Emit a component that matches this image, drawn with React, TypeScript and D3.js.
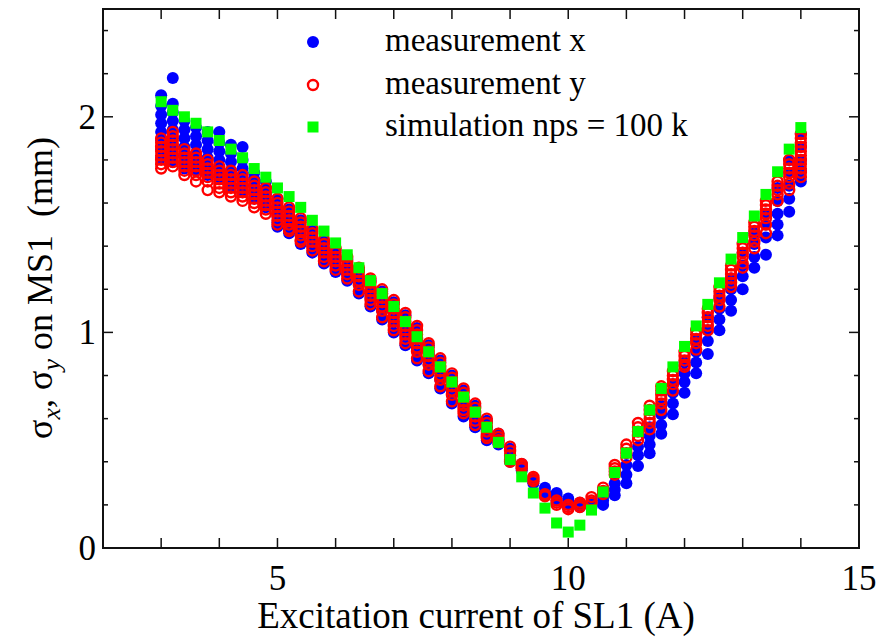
import React, { useRef, useEffect } from "react";
import * as d3 from "d3";

const width = 891;
const height = 639;
const margin = { top: 9, right: 32, bottom: 91, left: 103 };
const plotW = width - margin.left - margin.right;
const plotH = height - margin.top - margin.bottom;

// excitation current of SL1 (A)
const currents = [
    3.0, 3.2, 3.4, 3.6, 3.8, 4.0, 4.2, 4.4, 4.6, 4.8,
    5.0, 5.2, 5.4, 5.6, 5.8, 6.0, 6.2, 6.4, 6.6, 6.8,
    7.0, 7.2, 7.4, 7.6, 7.8, 8.0, 8.2, 8.4, 8.6, 8.8,
    9.0, 9.2, 9.4, 9.6, 9.8, 10.0, 10.2, 10.4, 10.6, 10.8,
    11.0, 11.2, 11.4, 11.6, 11.8, 12.0, 12.2, 12.4, 12.6, 12.8,
    13.0, 13.2, 13.4, 13.6, 13.8, 14.0,
];

// simulation nps = 100 k
const simulation = [
    2.07, 2.03, 2.0, 1.97, 1.93, 1.89, 1.85, 1.81, 1.76, 1.72,
    1.67, 1.63, 1.58, 1.52, 1.47, 1.415, 1.36, 1.3, 1.24, 1.18,
    1.12, 1.05, 0.98, 0.91, 0.84, 0.77, 0.7, 0.63, 0.56, 0.49,
    0.41, 0.33, 0.255, 0.185, 0.116, 0.074, 0.106, 0.176, 0.26, 0.35,
    0.44, 0.54, 0.64, 0.74, 0.84, 0.935, 1.03, 1.13, 1.23, 1.34,
    1.44, 1.54, 1.64, 1.745, 1.85, 1.95,
];

// measurement x (repeated shots at each current)
const measX = [
    [2.1, 2.05, 2.01, 1.97, 1.93, 1.89, 1.85, 1.81],
    [2.18, 2.06, 2.02, 1.98, 1.94, 1.9, 1.86, 1.82, 1.79],
    [1.98, 1.94, 1.9, 1.86, 1.82, 1.78, 1.76],
    [1.95, 1.91, 1.87, 1.83, 1.79, 1.75],
    [1.93, 1.89, 1.85, 1.81, 1.77, 1.73],
    [1.93, 1.88, 1.84, 1.8, 1.76, 1.72],
    [1.87, 1.83, 1.79, 1.75, 1.71, 1.68],
    [1.86, 1.8, 1.76, 1.72, 1.68, 1.65],
    [1.74, 1.71, 1.68, 1.65, 1.62],
    [1.7, 1.67, 1.64, 1.61, 1.58],
    [1.62, 1.58, 1.54, 1.51, 1.49],
    [1.57, 1.53, 1.5, 1.46],
    [1.52, 1.48, 1.45, 1.41],
    [1.47, 1.43, 1.4, 1.37],
    [1.42, 1.38, 1.35, 1.32],
    [1.38, 1.34, 1.31, 1.28],
    [1.34, 1.3, 1.27, 1.24],
    [1.29, 1.25, 1.22, 1.18],
    [1.24, 1.2, 1.16, 1.12],
    [1.19, 1.15, 1.1, 1.06],
    [1.14, 1.09, 1.05, 1.0],
    [1.08, 1.03, 0.99, 0.94],
    [1.02, 0.97, 0.92, 0.87],
    [0.94, 0.9, 0.85, 0.81],
    [0.87, 0.83, 0.78, 0.74],
    [0.8, 0.76, 0.71, 0.67],
    [0.73, 0.69, 0.65, 0.61],
    [0.66, 0.62, 0.59, 0.56],
    [0.59, 0.56, 0.53, 0.5],
    [0.53, 0.5, 0.48],
    [0.46, 0.43, 0.4],
    [0.39, 0.37, 0.36],
    [0.32, 0.31, 0.3],
    [0.28, 0.26, 0.25],
    [0.255, 0.24, 0.22],
    [0.23, 0.21, 0.2],
    [0.21, 0.2, 0.19],
    [0.21, 0.2, 0.19],
    [0.24, 0.22, 0.2],
    [0.3, 0.27, 0.245],
    [0.385, 0.34, 0.3],
    [0.47, 0.43, 0.38],
    [0.56, 0.52, 0.48, 0.44],
    [0.66, 0.62, 0.57, 0.53],
    [0.76, 0.72, 0.67, 0.62],
    [0.86, 0.81, 0.77, 0.72],
    [0.96, 0.91, 0.86, 0.81],
    [1.07, 1.01, 0.96, 0.9],
    [1.16, 1.11, 1.06, 1.01],
    [1.25, 1.2, 1.15, 1.1],
    [1.37, 1.31, 1.26, 1.2],
    [1.46, 1.41, 1.35, 1.3],
    [1.55, 1.5, 1.44, 1.36],
    [1.67, 1.61, 1.55, 1.5, 1.45],
    [1.8, 1.74, 1.68, 1.62, 1.56],
    [1.92, 1.86, 1.8, 1.75, 1.7],
];

// measurement y
const measY = [
    [1.9, 1.88, 1.86, 1.84, 1.82, 1.8, 1.78, 1.76],
    [1.93, 1.91, 1.89, 1.87, 1.85, 1.83, 1.81, 1.79, 1.77],
    [1.85, 1.83, 1.81, 1.79, 1.77, 1.75, 1.73],
    [1.83, 1.81, 1.79, 1.77, 1.75, 1.73, 1.7],
    [1.8, 1.78, 1.76, 1.74, 1.72, 1.7, 1.66],
    [1.77, 1.75, 1.73, 1.71, 1.69, 1.67, 1.65],
    [1.75, 1.73, 1.71, 1.69, 1.67, 1.65, 1.63],
    [1.73, 1.71, 1.69, 1.67, 1.65, 1.63, 1.61],
    [1.7, 1.68, 1.66, 1.64, 1.62, 1.6, 1.58],
    [1.67, 1.65, 1.63, 1.61, 1.59, 1.57, 1.55],
    [1.62, 1.6, 1.58, 1.56, 1.54, 1.52, 1.5],
    [1.58, 1.56, 1.54, 1.52, 1.5, 1.48, 1.47],
    [1.53, 1.51, 1.49, 1.47, 1.45, 1.43, 1.42],
    [1.48, 1.46, 1.44, 1.42, 1.4, 1.38],
    [1.43, 1.41, 1.39, 1.37, 1.35, 1.33],
    [1.39, 1.37, 1.35, 1.33, 1.31, 1.29],
    [1.35, 1.33, 1.31, 1.29, 1.27, 1.25],
    [1.3, 1.28, 1.26, 1.24, 1.22, 1.19],
    [1.25, 1.23, 1.21, 1.19, 1.17, 1.15, 1.13],
    [1.2, 1.18, 1.16, 1.14, 1.12, 1.1, 1.07],
    [1.15, 1.13, 1.11, 1.09, 1.07, 1.05, 1.03, 1.01],
    [1.09, 1.07, 1.05, 1.03, 1.01, 0.99, 0.97, 0.95],
    [1.03, 1.01, 0.99, 0.97, 0.95, 0.93, 0.91, 0.88],
    [0.95, 0.93, 0.91, 0.89, 0.87, 0.85, 0.82],
    [0.88, 0.86, 0.84, 0.82, 0.8, 0.78, 0.75],
    [0.81, 0.79, 0.77, 0.75, 0.73, 0.71, 0.68],
    [0.74, 0.72, 0.7, 0.68, 0.66, 0.64, 0.625],
    [0.67, 0.65, 0.63, 0.61, 0.59, 0.57],
    [0.6, 0.58, 0.56, 0.54, 0.52, 0.51],
    [0.53, 0.515, 0.5, 0.49],
    [0.47, 0.45, 0.43, 0.41, 0.4],
    [0.39, 0.38, 0.37],
    [0.33, 0.32, 0.31],
    [0.25, 0.245, 0.24],
    [0.22, 0.21, 0.2],
    [0.2, 0.19, 0.18],
    [0.21, 0.2, 0.19],
    [0.236, 0.22, 0.21],
    [0.28, 0.265, 0.25],
    [0.385, 0.37, 0.355, 0.34],
    [0.48, 0.46, 0.44, 0.42],
    [0.58, 0.56, 0.54, 0.52, 0.5],
    [0.66, 0.64, 0.62, 0.6, 0.58, 0.55],
    [0.75, 0.73, 0.71, 0.69, 0.67, 0.64],
    [0.82, 0.8, 0.78, 0.76, 0.73],
    [0.91, 0.89, 0.87, 0.85, 0.84],
    [1.01, 0.99, 0.97, 0.95, 0.92],
    [1.11, 1.09, 1.07, 1.05, 1.03, 1.01],
    [1.21, 1.19, 1.17, 1.15, 1.12],
    [1.31, 1.29, 1.27, 1.25, 1.23, 1.21],
    [1.41, 1.39, 1.37, 1.35, 1.32, 1.3],
    [1.51, 1.49, 1.47, 1.45, 1.42, 1.39],
    [1.61, 1.59, 1.57, 1.55, 1.53, 1.5, 1.46],
    [1.7, 1.68, 1.66, 1.64, 1.61],
    [1.8, 1.78, 1.76, 1.74, 1.72, 1.69, 1.66],
    [1.92, 1.9, 1.88, 1.86, 1.84, 1.82, 1.8, 1.78, 1.76, 1.74, 1.72],
];

const xLabels = [5, 10, 15];
const yLabels = [0, 1, 2];
const legendNames = ["measurement x", "measurement y", "simulation nps = 100 k"];

const BLUE = "#0000ff";
const RED = "#ff0000";
const GREEN = "#00ff00";
const FONT = "'Liberation Serif', 'Times New Roman', serif";

const App = () => {
    const canvas = useRef(null);

    useEffect(() => {
        const svg = d3.select(canvas.current);
        svg.selectAll("*").remove();

        const x = d3.scaleLinear().domain([2, 15]).range([0, plotW]);
        const y = d3.scaleLinear().domain([0, 2.5]).range([plotH, 0]);

        const graph = svg
            .append("g")
            .attr("transform", `translate(${margin.left}, ${margin.top})`);

        // flatten the repeated shots into points
        const ptsX = [];
        const ptsY = [];
        currents.forEach((c, i) => {
            measX[i].forEach((v) => ptsX.push({ c, v }));
            measY[i].forEach((v) => ptsY.push({ c, v }));
        });

        graph
            .selectAll("circle.mx")
            .data(ptsX)
            .enter()
            .append("circle")
            .attr("class", "mx")
            .attr("cx", (d) => x(d.c))
            .attr("cy", (d) => y(d.v))
            .attr("r", 6)
            .attr("fill", BLUE);

        graph
            .selectAll("circle.my")
            .data(ptsY)
            .enter()
            .append("circle")
            .attr("class", "my")
            .attr("cx", (d) => x(d.c))
            .attr("cy", (d) => y(d.v))
            .attr("r", 5)
            .attr("fill", "none")
            .attr("stroke", RED)
            .attr("stroke-width", 2.4);

        const sq = 11;
        graph
            .selectAll("rect.sim")
            .data(currents.map((c, i) => ({ c, v: simulation[i] })))
            .enter()
            .append("rect")
            .attr("class", "sim")
            .attr("x", (d) => x(d.c) - sq / 2)
            .attr("y", (d) => y(d.v) - sq / 2)
            .attr("width", sq)
            .attr("height", sq)
            .attr("fill", GREEN);

        // ticks, all pointing inwards, on every side
        const xt = d3.range(3, 15);
        xt.forEach((t) => {
            graph.append("line")
                .attr("x1", x(t)).attr("x2", x(t))
                .attr("y1", plotH).attr("y2", plotH - 10)
                .attr("stroke", "#111").attr("stroke-width", 1.5);
            graph.append("line")
                .attr("x1", x(t)).attr("x2", x(t))
                .attr("y1", 0).attr("y2", 10)
                .attr("stroke", "#111").attr("stroke-width", 1.5);
        });
        const yt = d3.range(1, 13).map((k) => k * 0.2);
        yt.forEach((t) => {
            const major = Math.abs(t - Math.round(t)) < 1e-6;
            const len = major ? 10 : 5;
            graph.append("line")
                .attr("x1", 0).attr("x2", len)
                .attr("y1", y(t)).attr("y2", y(t))
                .attr("stroke", "#111").attr("stroke-width", 1.5);
            graph.append("line")
                .attr("x1", plotW).attr("x2", plotW - len)
                .attr("y1", y(t)).attr("y2", y(t))
                .attr("stroke", "#111").attr("stroke-width", 1.5);
        });

        graph.append("rect")
            .attr("width", plotW)
            .attr("height", plotH)
            .attr("fill", "none")
            .attr("stroke", "#111")
            .attr("stroke-width", 2);

        graph.selectAll("text.xl")
            .data(xLabels)
            .enter()
            .append("text")
            .attr("class", "xl")
            .attr("x", (d) => x(d))
            .attr("y", plotH + 42)
            .attr("text-anchor", "middle")
            .attr("font-family", FONT)
            .attr("font-size", 35)
            .text((d) => d);

        graph.selectAll("text.yl")
            .data(yLabels)
            .enter()
            .append("text")
            .attr("class", "yl")
            .attr("x", -7)
            .attr("y", (d) => y(d) + 12)
            .attr("text-anchor", "end")
            .attr("font-family", FONT)
            .attr("font-size", 35)
            .text((d) => d);

        // axis titles
        svg.append("text")
            .attr("x", 476)
            .attr("y", 628)
            .attr("text-anchor", "middle")
            .attr("font-family", FONT)
            .attr("font-size", 37)
            .text("Excitation current of SL1 (A)");

        const yTitle = svg.append("text")
            .attr("transform", "translate(52, 288) rotate(-90)")
            .attr("text-anchor", "middle")
            .attr("font-family", FONT)
            .attr("font-size", 36)
            .style("white-space", "pre");
        yTitle.append("tspan").text("σ");
        yTitle.append("tspan").attr("font-style", "italic").attr("font-size", 26).attr("dy", 8).text("x");
        yTitle.append("tspan").attr("dy", -8).text(", σ");
        yTitle.append("tspan").attr("font-style", "italic").attr("font-size", 26).attr("dy", 8).text("y");
        yTitle.append("tspan").attr("dy", -8).text(" on MS1  (mm)");

        // legend
        const leg = svg.append("g");
        const rows = [42, 85, 127];
        leg.append("circle").attr("cx", 313).attr("cy", rows[0]).attr("r", 6).attr("fill", BLUE);
        leg.append("circle").attr("cx", 313).attr("cy", rows[1]).attr("r", 5)
            .attr("fill", "none").attr("stroke", RED).attr("stroke-width", 2.4);
        leg.append("rect").attr("x", 313 - sq / 2).attr("y", rows[2] - sq / 2)
            .attr("width", sq).attr("height", sq).attr("fill", GREEN);
        legendNames.forEach((n, i) => {
            leg.append("text")
                .attr("x", 385)
                .attr("y", rows[i] + 9)
                .attr("font-family", FONT)
                .attr("font-size", 33)
                .text(n);
        });
    }, []);

    return (
        <svg
            ref={canvas}
            width={width}
            height={height}
            style={{ position: "absolute", left: 0, top: 0, background: "#fff" }}
        />
    );
};

export default App;
